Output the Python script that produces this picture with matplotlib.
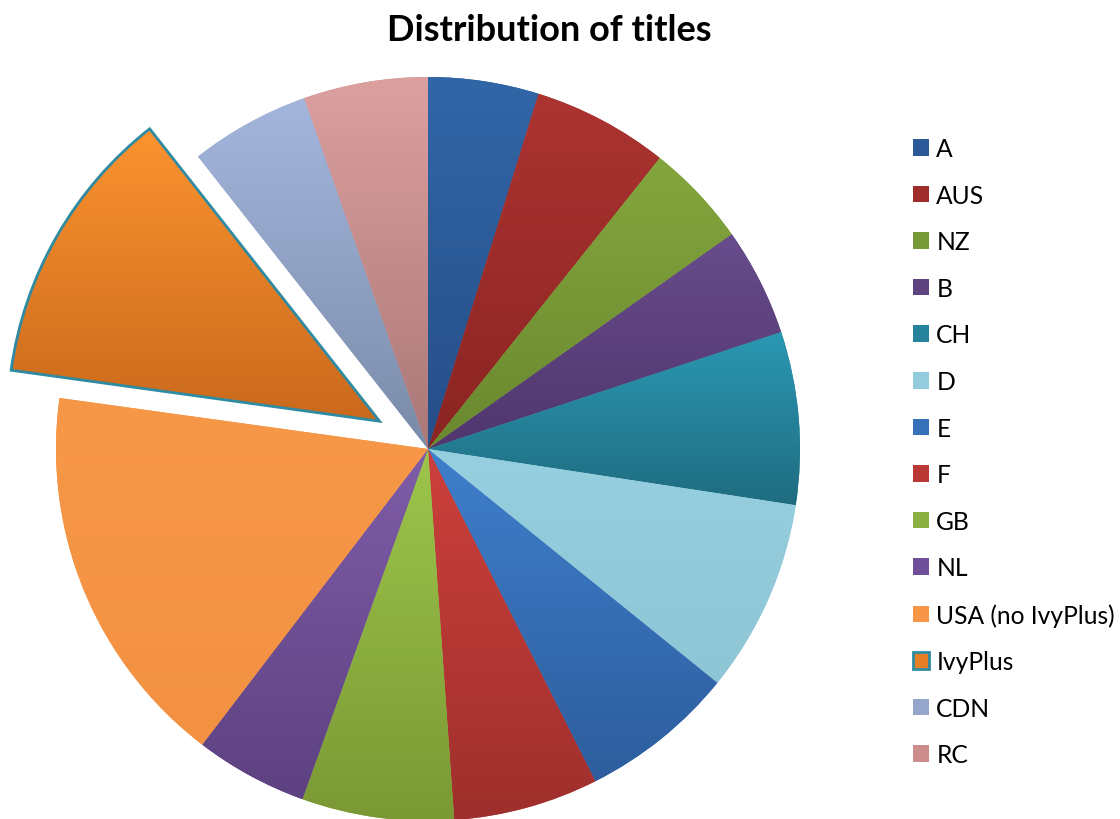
import numpy as np
import matplotlib
matplotlib.use("Agg")
import matplotlib.pyplot as plt
from matplotlib.colors import to_rgb

# ---- data (percent share of titles) ----
categories = ["A", "AUS", "NZ", "B", "CH", "D", "E", "F", "GB", "NL",
              "USA (no IvyPlus)", "IvyPlus", "CDN", "RC"]
shares = [4.8, 5.9, 4.5, 4.7, 7.5, 8.4, 6.75, 6.3, 6.6, 4.9, 16.8, 12.2, 5.2, 5.4]
exploded = ["IvyPlus"]

# ---- styling ----
top_colors = ["#3166A7", "#AC3431", "#84A63E", "#684C8C", "#2B98B3", "#96CFDF",
              "#3F7FCC", "#CD403C", "#9DC64C", "#7F5DA8", "#F79848", "#FB932F",
              "#A4B6DD", "#DCA09F"]
bottom_colors = ["#264E88", "#8A2422", "#6A882F", "#50366D", "#1F6C80", "#8EC6D6",
                 "#2D5D9D", "#9E2F2C", "#7A9834", "#5D4180", "#F29142", "#CA691D",
                 "#7A8BA9", "#AA7877"]
legend_colors = ["#2C5A98", "#9E2D2B", "#789937", "#5C427E", "#25839B", "#93CDDD",
                 "#3670B8", "#BA3835", "#8CB042", "#6F4F97", "#F79646", "#E57E25",
                 "#94A6C9", "#CB8E8D"]
ivy_edge = "#2E8BA2"
font_family = ["Lato", "DejaVu Sans"]

W, H = 1120, 820
fig = plt.figure(figsize=(W / 100, H / 100), dpi=100)
ax = fig.add_axes([0, 0, 1, 1])

cx, cy, R = 428, H - 450, 372
explode = [0.15 * R if c in exploded else 0 for c in categories]

wedges, _ = ax.pie(shares, explode=explode, colors=legend_colors, startangle=90,
                   counterclock=False, center=(cx, cy), radius=R,
                   wedgeprops=dict(linewidth=0))

# legend (created before restyling wedges so handles keep flat colours)
for w, c in zip(wedges, categories):
    if c in exploded:
        w.set_edgecolor(ivy_edge)
        w.set_linewidth(2.0)
leg = ax.legend(wedges, categories, loc="upper left",
                bbox_to_anchor=(913 / W, 1 - 138 / H), bbox_transform=fig.transFigure,
                frameon=False, prop=dict(family=font_family, size=17.7),
                handlelength=0.66, handleheight=0.66, handletextpad=0.29,
                labelspacing=0.96, borderpad=0, borderaxespad=0)

# vertical gradient fill for each slice
for w, ct, cb, c in zip(wedges, top_colors, bottom_colors, categories):
    verts = w.get_path().vertices
    x0, y0 = verts.min(axis=0)
    x1, y1 = verts.max(axis=0)
    t = np.linspace(0, 1, 256)[:, None]
    grad = (1 - t) * np.array(to_rgb(ct)) + t * np.array(to_rgb(cb))
    grad = grad[:, None, :]
    im = ax.imshow(grad, extent=(x0, x1, y0, y1), origin="upper", aspect="auto",
                   interpolation="bilinear", zorder=2)
    im.set_clip_path(w)
    if c in exploded:
        w.set_facecolor("none")
        w.set_zorder(3)

fig.text(549 / W, 1 - 41 / H, "Distribution of titles", ha="center", va="baseline",
         fontsize=26, fontweight="bold", family=font_family)

ax.set_aspect("auto")
ax.set_xlim(0, W)
ax.set_ylim(0, H)
ax.axis("off")

fig.savefig("out.png", dpi=100, facecolor="white")
